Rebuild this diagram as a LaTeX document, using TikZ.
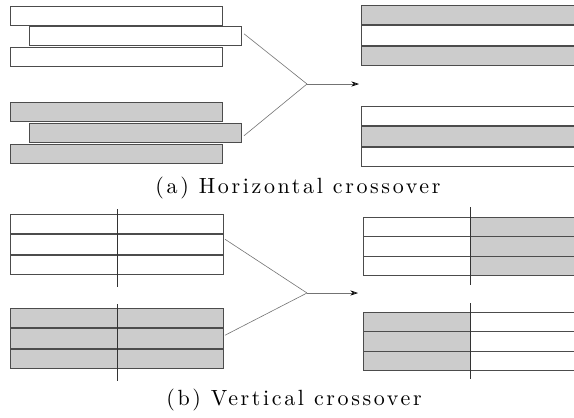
\documentclass[tikz,border=0pt]{standalone}
\usepackage{fontspec}
\newfontfamily\capfont{lmroman10-regular.otf}[LetterSpace=12]
\usetikzlibrary{arrows.meta}

\begin{document}
\begin{tikzpicture}[x=1pt,y=-1pt,>={Stealth[length=7.5pt,width=5pt,black]},
    bar/.style={draw=black!70,line width=0.7pt,anchor=north west,inner sep=0pt,outer sep=0pt,minimum height=19.5pt},
    short bar/.style={bar,minimum width=212pt},
    long bar/.style={bar,minimum width=230pt},
    half bar/.style={bar,minimum width=107pt},
    cut/.style={black!80,line width=0.9pt},
    link/.style={black!55,line width=0.6pt},
    caption/.style={font=\capfont\fontsize{22}{26}\selectfont}]
                \clip (0,0) rectangle (574,418);

                % (a) parents, one bar shifted to the right
                \node[short bar] (h1) at (10,6) {};
                \node[short bar] (h2) at (29,26) {};
                \node[short bar] (h3) at (10,47) {};
                \node[short bar,fill=gray!40] (g1) at (10,102) {};
                \node[short bar,fill=gray!40] (g2) at (29,123) {};
                \node[short bar,fill=gray!40] (g3) at (10,144) {};

                % (a) children
                \node[long bar,fill=gray!40] (c1) at (361,5) {};
                \node[long bar] (c2) at (361,25.5) {};
                \node[long bar,fill=gray!40] (c3) at (361,46) {};
                \node[long bar] (d1) at (361,106) {};
                \node[long bar,fill=gray!40] (d2) at (361,126.5) {};
                \node[long bar] (d3) at (361,147) {};

                \coordinate (ja) at (307,84);
                \coordinate (ta) at (359,84);
                \path[link]
                    ([xshift=3pt,yshift=2pt]h2.east) edge (ja)
                    ([xshift=3pt,yshift=-3pt]g2.east) edge (ja)
                    (ja) edge[->] (ta)
                    ;
                \node[caption] (capa) at (298,188) {(a) Horizontal crossover};

                % (b) parents, cut down the middle
                \node[bar,minimum width=213pt] (v1) at (10,214) {};
                \node[bar,minimum width=213pt] (v2) at (10,234.5) {};
                \node[bar,minimum width=213pt] (v3) at (10,255) {};
                \node[bar,minimum width=213pt,fill=gray!40] (w1) at (10,308) {};
                \node[bar,minimum width=213pt,fill=gray!40] (w2) at (10,328.5) {};
                \node[bar,minimum width=213pt,fill=gray!40] (w3) at (10,349) {};
                \coordinate (vt) at (117,209);
                \coordinate (vb) at (117,287);
                \coordinate (wt) at (117,304);
                \coordinate (wb) at (117,381);

                % (b) children, left and right halves swapped
                \foreach \n/\y in {1/217,2/236.5,3/256}{
                    \node[half bar] (p\n) at (363,\y) {};
                    \node[long bar,fill=gray!40] (q\n) at (470,\y) {};
                }
                \foreach \n/\y in {1/312,2/331.5,3/351}{
                    \node[half bar,fill=gray!40] (r\n) at (363,\y) {};
                    \node[long bar] (s\n) at (470,\y) {};
                }
                \coordinate (pt) at (470,207);
                \coordinate (pb) at (470,285);
                \coordinate (rt) at (470,303);
                \coordinate (rb) at (470,379);

                \path[cut]
                    (vt) edge (vb)
                    (wt) edge (wb)
                    (pt) edge (pb)
                    (rt) edge (rb)
                    ;

                \coordinate (jb) at (307,293);
                \coordinate (tb) at (358,293);
                \path[link]
                    ([xshift=2pt,yshift=5pt]v2.east) edge (jb)
                    ([xshift=2pt,yshift=3pt]w2.east) edge (jb)
                    (jb) edge[->] (tb)
                    ;
                \node[caption] (capb) at (294,400) {(b) Vertical crossover};
            \end{tikzpicture}
\end{document}
